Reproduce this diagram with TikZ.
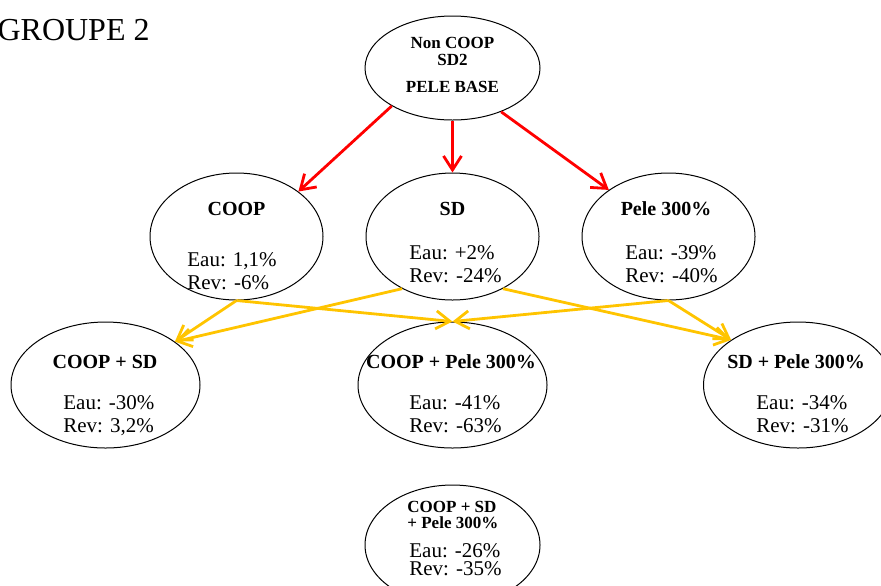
\documentclass[tikz,border=0pt]{standalone}
\usepackage{fontspec}
\setmainfont{Liberation Serif}
\usetikzlibrary{shapes.geometric,arrows.meta}
\definecolor{jaune}{RGB}{255,196,0}
\tikzset{
  bulle/.style 2 args={draw, ellipse, inner sep=0pt, line width=0.5pt, minimum width=#1, minimum height=#2},
  titre/.style={inner sep=0pt, font=\bfseries\fontsize{10}{10}\selectfont},
  chiffres/.style={anchor=north west, align=left, inner sep=0pt, font=\fontsize{10.5}{11.5}\selectfont},
  rouge/.style={draw=red, line width=1.4pt},
  jaunef/.style={draw=jaune, line width=1.4pt}
}
\begin{document}
\begin{tikzpicture}[x=0.5pt, y=-0.5pt, line join=round, >={Straight Barb[length=7pt,width=9pt]}]
    \useasboundingbox (0,0) rectangle (881,585);
    \node[anchor=base east, inner sep=0pt, font=\fontsize{16}{16}\selectfont] (groupe) at (150,40) {GROUPE 2};
    \node[bulle={87.5pt}{52pt}] (base) at (452.5,68) {};
    \node[titre, anchor=north, align=center, font=\bfseries\fontsize{8.5}{8.5}\selectfont] (base-t) at (452.5,37) {Non COOP\\SD2\\[5pt]PELE BASE};
    \node[bulle={86.5pt}{63.5pt}] (coop) at (236.5,236.5) {};
    \node[titre] (coop-t) at (236.5,209) {COOP};
    \node[chiffres] (coop-v) at (187,252) {Eau: 1,1\%\\Rev: -6\%};
    \node[bulle={86.5pt}{63.5pt}] (sd) at (452.5,236.5) {};
    \node[titre] (sd-t) at (452.5,209) {SD};
    \node[chiffres] (sd-v) at (409,245) {Eau: +2\%\\Rev: -24\%};
    \node[bulle={86.5pt}{63.5pt}] (pele) at (668.5,236.5) {};
    \node[titre] (pele-t) at (666,209) {Pele 300\%};
    \node[chiffres] (pele-v) at (625,245) {Eau: -39\%\\Rev: -40\%};
    \node[bulle={94.5pt}{63pt}] (coopsd) at (105.5,385) {};
    \node[titre] (coopsd-t) at (105,362) {COOP + SD};
    \node[chiffres] (coopsd-v) at (63,395) {Eau: -30\%\\Rev: 3,2\%};
    \node[bulle={94.5pt}{63pt}] (cooppele) at (452.5,385) {};
    \node[titre] (cooppele-t) at (451,362) {COOP + Pele 300\%};
    \node[chiffres] (cooppele-v) at (409,395) {Eau: -41\%\\Rev: -63\%};
    \node[bulle={94.5pt}{63pt}] (sdpele) at (798,385) {};
    \node[titre] (sdpele-t) at (796,362) {SD + Pele 300\%};
    \node[chiffres] (sdpele-v) at (756,395) {Eau: -34\%\\Rev: -31\%};
    \node[bulle={87.5pt}{60pt}] (tout) at (452.5,545) {};
    \node[titre, anchor=north west, align=left, font=\bfseries\fontsize{8.5}{8}\selectfont] (tout-t) at (407,501) {COOP + SD\\+ Pele 300\%};
    \node[chiffres, font=\fontsize{10.5}{9}\selectfont] (tout-v) at (409,543) {Eau: -26\%\\Rev: -35\%};
    \draw[rouge, ->] (base.212) -- (coop.36);
    \draw[rouge, ->] (base.south) -- (sd.north);
    \draw[rouge, ->] (base.318) -- (pele.142);
    \draw[jaunef, ->] (coop.south) -- (coopsd.32);
    \draw[jaunef, ->] (coop.south) -- (cooppele.north);
    \draw[jaunef, ->] (sd.226) -- (coopsd.32);
    \draw[jaunef, ->] (sd.314) -- (sdpele.146);
    \draw[jaunef, ->] (pele.south) -- (cooppele.north);
    \draw[jaunef, ->] (pele.south) -- (sdpele.146);
\end{tikzpicture}
\end{document}
